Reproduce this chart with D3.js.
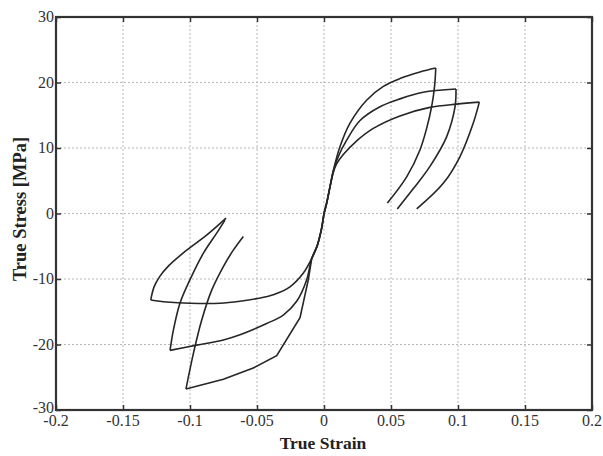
<!DOCTYPE html>
<html>
<head>
<meta charset="utf-8">
<script src="https://cdn.jsdelivr.net/npm/d3@7"></script>
<style>
  body { margin: 0; background: #fff; }
  svg { display: block; font-family: "Liberation Serif", "Times New Roman", serif; }
</style>
</head>
<body>
<svg id="chart" width="603" height="456"></svg>
<script>
// tick values
const xTicks = [-0.2, -0.15, -0.1, -0.05, 0, 0.05, 0.1, 0.15, 0.2];
const yTicks = [-30, -20, -10, 0, 10, 20, 30];

// tension loops: [strain, stress]
const t1Load = [[0, 0], [0.002, 1.6], [0.0045, 4.1], [0.007, 6.6], [0.0119, 10.2], [0.0194, 13.8], [0.0318, 17.3], [0.0443, 19.4], [0.0567, 20.6], [0.0716, 21.6], [0.0834, 22.2]];
const t1Unload = [[0.0834, 22.2], [0.0826, 19.6], [0.0805, 16.5], [0.0766, 13.0], [0.0716, 9.7], [0.0617, 5.6], [0.0473, 1.6]];
const t2Load = [[0, 0], [0.002, 1.6], [0.0045, 4.1], [0.007, 6.5], [0.0107, 8.7], [0.0169, 11.2], [0.0269, 14.2], [0.0418, 16.3], [0.0567, 17.5], [0.074, 18.5], [0.0985, 19.0]];
const t2Unload = [[0.0985, 19.0], [0.0978, 16.3], [0.0915, 11.7], [0.0791, 7.2], [0.0667, 3.8], [0.0547, 0.7]];
const t3Load = [[0, 0], [0.002, 1.6], [0.0045, 4.1], [0.007, 6.3], [0.0095, 7.6], [0.0144, 9.0], [0.0244, 11.1], [0.0368, 13.0], [0.0567, 14.9], [0.079, 16.2], [0.099, 16.7], [0.1159, 17.0]];
const t3Unload = [[0.1159, 17.0], [0.1114, 13.8], [0.1015, 8.7], [0.089, 4.6], [0.0692, 0.7]];

// compression loops
const c1Load = [[0, 0], [-0.002, -2.5], [-0.005, -4.9], [-0.0092, -6.9], [-0.0154, -9.1], [-0.0254, -11.2], [-0.0378, -12.4], [-0.0502, -13.0], [-0.0627, -13.4], [-0.0776, -13.7], [-0.1, -13.7], [-0.1174, -13.5], [-0.1293, -13.2]];
const c1Unload = [[-0.1293, -13.2], [-0.1268, -11.2], [-0.1225, -9.6], [-0.116, -8.0], [-0.1025, -5.6], [-0.0876, -3.3], [-0.0731, -0.7]];
const c2Load = [[0, 0], [-0.002, -2.5], [-0.005, -4.9], [-0.0092, -6.9], [-0.0129, -10.1], [-0.0204, -13.4], [-0.0304, -15.5], [-0.0428, -16.8], [-0.0627, -18.5], [-0.0751, -19.3], [-0.095, -20.1], [-0.1149, -20.9]];
const c2Unload = [[-0.1149, -20.9], [-0.1124, -17.8], [-0.1075, -13.7], [-0.1, -10.1], [-0.0901, -6.1], [-0.0801, -3.0], [-0.0739, -1.0]];
const c3Load = [[0, 0], [-0.002, -2.5], [-0.005, -4.9], [-0.0092, -6.9], [-0.0117, -10.1], [-0.0179, -15.9], [-0.0353, -21.7], [-0.0528, -23.6], [-0.0751, -25.3], [-0.103, -26.8]];
const c3Unload = [[-0.103, -26.8], [-0.0975, -21.4], [-0.0913, -16.3], [-0.0838, -11.7], [-0.0751, -8.1], [-0.0677, -5.6], [-0.0602, -3.5]];

const smooth = [t1Load, t1Unload, t2Load, t2Unload, t3Load, t3Unload, c1Load, c1Unload, c2Load, c2Unload, c3Unload];
const straight = [c3Load];

const plot = { left: 56, right: 592, top: 17, bottom: 410 };
const svg = d3.select("#chart");

const x = d3.scaleLinear().domain([-0.2, 0.2]).range([plot.left, plot.right]);
const y = d3.scaleLinear().domain([-30, 30]).range([plot.bottom, plot.top]);
const fmt = d => String(+d.toFixed(2));

// grid
svg.append("g").selectAll("line")
    .data(xTicks.slice(1, -1))
    .enter().append("line")
    .attr("x1", d => x(d)).attr("x2", d => x(d))
    .attr("y1", plot.top).attr("y2", plot.bottom)
    .attr("stroke", "#b8b8b8").attr("stroke-dasharray", "2,2");
svg.append("g").selectAll("line")
    .data(yTicks.slice(1, -1))
    .enter().append("line")
    .attr("y1", d => y(d)).attr("y2", d => y(d))
    .attr("x1", plot.left).attr("x2", plot.right)
    .attr("stroke", "#b8b8b8").attr("stroke-dasharray", "2,2");

// curves
const lineSmooth = d3.line().x(d => x(d[0])).y(d => y(d[1])).curve(d3.curveCatmullRom.alpha(0.5));
const lineStraight = d3.line().x(d => x(d[0])).y(d => y(d[1]));
svg.append("g").selectAll("path")
    .data(smooth)
    .enter().append("path")
    .attr("d", lineSmooth)
    .attr("fill", "none").attr("stroke", "#262626").attr("stroke-width", 1.6);
svg.append("g").selectAll("path")
    .data(straight)
    .enter().append("path")
    .attr("d", lineStraight)
    .attr("fill", "none").attr("stroke", "#262626").attr("stroke-width", 1.6);

// axes with inward ticks on all sides
const tick = 5;
svg.append("g").attr("transform", `translate(0,${plot.bottom})`)
    .call(d3.axisTop(x).tickValues(xTicks).tickSize(tick).tickFormat(""));
svg.append("g").attr("transform", `translate(0,${plot.top})`)
    .call(d3.axisBottom(x).tickValues(xTicks).tickSize(tick).tickFormat(""));
svg.append("g").attr("transform", `translate(${plot.left},0)`)
    .call(d3.axisRight(y).tickValues(yTicks).tickSize(tick).tickFormat(""));
svg.append("g").attr("transform", `translate(${plot.right},0)`)
    .call(d3.axisLeft(y).tickValues(yTicks).tickSize(tick).tickFormat(""));
svg.selectAll(".domain").remove();
svg.selectAll(".tick line").attr("stroke", "#333").attr("stroke-width", 1.5);

svg.append("rect")
    .attr("x", plot.left).attr("y", plot.top)
    .attr("width", plot.right - plot.left).attr("height", plot.bottom - plot.top)
    .attr("fill", "none").attr("stroke", "#333").attr("stroke-width", 2.2);

// tick labels
svg.append("g").selectAll("text")
    .data(xTicks)
    .enter().append("text")
    .attr("x", d => x(d)).attr("y", 426)
    .attr("text-anchor", "middle")
    .attr("font-size", 16).attr("fill", "#333")
    .text(fmt);
svg.append("g").selectAll("text")
    .data(yTicks)
    .enter().append("text")
    .attr("x", 54).attr("y", d => y(d) + (d === -30 ? 3 : 5))
    .attr("text-anchor", "end")
    .attr("font-size", 16).attr("fill", "#333")
    .text(fmt);

// axis titles
svg.append("text")
    .attr("x", 323).attr("y", 449)
    .attr("text-anchor", "middle")
    .attr("font-size", 17.5).attr("font-weight", "bold").attr("fill", "#222")
    .text("True Strain");
svg.append("text")
    .attr("transform", "translate(26,209) rotate(-90)")
    .attr("text-anchor", "middle")
    .attr("font-size", 18.5).attr("font-weight", "bold").attr("fill", "#222")
    .text("True Stress [MPa]");
</script>
</body>
</html>
